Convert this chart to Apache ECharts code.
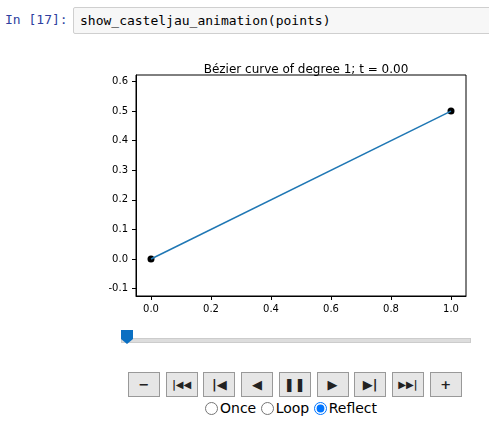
<!DOCTYPE html><html><head><meta charset="utf-8">
<script src="https://cdn.jsdelivr.net/npm/echarts@6/dist/echarts.min.js"></script>
<style>
body{margin:0;width:489px;height:424px;background:#fff;font-family:"DejaVu Sans",sans-serif;position:relative;overflow:hidden}
#prompt{position:absolute;left:5px;top:12px;color:#303f9f;font:13px "DejaVu Sans Mono",monospace}
#cell{position:absolute;left:73px;top:7px;width:420px;height:27px;border:1px solid #cfcfcf;background:#f7f7f7;border-radius:2px;box-sizing:border-box}
#cell span{position:absolute;left:6px;top:5px;font:13px "DejaVu Sans Mono",monospace;color:#000}
#chart{position:absolute;left:0;top:45px;width:489px;height:270px}
#track{position:absolute;left:121px;top:338px;width:348px;height:3px;background:#ddd;border:1px solid #ccc}
#handle{position:absolute;left:121px;top:330px;width:12px;height:14px;background:#0a6fc2;clip-path:polygon(0 0,100% 0,100% 65%,50% 100%,0 65%)}
.btn{position:absolute;top:372px;width:32px;height:25px;background:#e6e6e6;border:1px solid #999;box-sizing:border-box;font:bold 13px "DejaVu Sans";text-align:center;line-height:23px;color:#222}
#radios{position:absolute;left:205px;top:400px;font-size:14px;color:#000}
#radios input{margin:0 2px 0 0;vertical-align:-2px}
</style></head><body>
<div id="prompt">In [17]:</div>
<div id="cell"><span>show_casteljau_animation(points)</span></div>
<div id="chart"></div>
<div id="track"></div><div id="handle"></div>
<div id="btns"></div>
<div id="radios"><input type="radio" name="r">Once <input type="radio" name="r">Loop <input type="radio" name="r" checked>Reflect</div>
<script>
const pointsX=[0,1];
const pointsY=[0,0.5];
const xTicks=[0,0.2,0.4,0.6,0.8,1.0];
const yTicks=[-0.1,0,0.1,0.2,0.3,0.4,0.5,0.6];
const btnLabelsTxt=['−','|◀◀','|◀','◀','❚❚','▶','▶|','▶▶|','+'];
btnLabelsTxt.forEach((t,i)=>{const b=document.createElement('div');b.className='btn';b.style.left=(128+i*37.7)+'px';b.textContent=t;if(t.length>2)b.style.fontSize='10px';document.getElementById('btns').appendChild(b);});
const data=pointsX.map((x,i)=>[x,pointsY[i]]);
const c=echarts.init(document.getElementById('chart'));
const ax={axisLine:{onZero:false,lineStyle:{color:'#000'}},axisTick:{length:4,lineStyle:{color:'#000'}},splitLine:{show:false},axisLabel:{color:'#000',fontSize:10,fontFamily:'DejaVu Sans'}};
c.setOption({animation:false,
title:{text:'Bézier curve of degree 1; t = 0.00',left:301,top:14,textAlign:'center',textStyle:{fontSize:12,fontWeight:'normal',color:'#000',fontFamily:'DejaVu Sans'}},
grid:{left:136,top:30,width:330,height:221,show:true,borderColor:'#000',borderWidth:1},
xAxis:{type:'value',min:-0.05,max:1.05,...ax,axisTick:{...ax.axisTick,customValues:xTicks},axisLabel:{...ax.axisLabel,customValues:xTicks,formatter:v=>v.toFixed(1)}},
yAxis:{type:'value',min:-0.125,max:0.622,...ax,axisTick:{...ax.axisTick,customValues:yTicks},axisLabel:{...ax.axisLabel,customValues:yTicks,formatter:v=>v.toFixed(1)}},
series:[{type:'line',data,symbol:'none',lineStyle:{color:'#1f77b4',width:1.5}},
{type:'scatter',data,symbolSize:7,itemStyle:{color:'#000',opacity:1}}]});
</script></body></html>
